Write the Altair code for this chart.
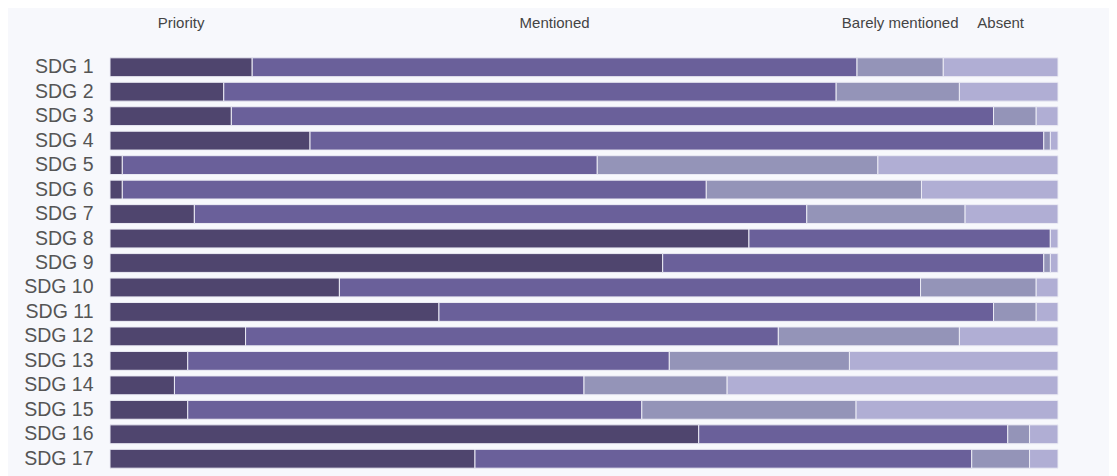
import altair as alt
import pandas as pd

sdgs = [f"SDG {i}" for i in range(1, 18)]
categories = ["Priority", "Mentioned", "Barely mentioned", "Absent"]
colors = ["#4f456e", "#6a609a", "#9494b8", "#b0aed4"]

priority  = [15.0, 12.0, 12.8, 21.1, 1.3, 1.3, 8.9, 67.4, 58.3, 24.2, 34.7, 14.3, 8.2, 6.8, 8.2, 62.1, 38.5]
mentioned = [63.8, 64.6, 80.4, 77.4, 50.1, 61.6, 64.6, 31.8, 40.2, 61.3, 58.5, 56.2, 50.8, 43.2, 47.9, 32.6, 52.4]
barely    = [9.1, 13.0, 4.5, 0.7, 29.6, 22.7, 16.7, 0.0, 0.7, 12.2, 4.5, 19.1, 19.0, 15.1, 22.6, 2.3, 6.1]
absent    = [12.1, 10.4, 2.3, 0.8, 19.0, 14.4, 9.8, 0.8, 0.8, 2.3, 2.3, 10.4, 22.0, 34.9, 21.3, 3.0, 3.0]

rows = []
for i, s in enumerate(sdgs):
    for k, (cat, vals) in enumerate(zip(categories, [priority, mentioned, barely, absent])):
        rows.append({"sdg": s, "category": cat, "value": vals[i], "order": k})
df = pd.DataFrame(rows)

xscale = alt.Scale(domain=[0, 100], nice=False, zero=True)

bars = alt.Chart(df).mark_bar(stroke="#ebebf4", strokeWidth=1).encode(
    y=alt.Y("sdg:N", sort=sdgs,
            scale=alt.Scale(paddingInner=0.23, paddingOuter=0.115),
            axis=alt.Axis(title=None, labelFontSize=19.5, labelColor="#555555",
                          labelFont="Liberation Sans", labelPadding=17,
                          ticks=False, domain=False, grid=False)),
    x=alt.X("value:Q", stack="zero", scale=xscale, axis=None),
    color=alt.Color("category:N", scale=alt.Scale(domain=categories, range=colors), legend=None),
    order=alt.Order("order:Q"),
)

headers = alt.Chart(df).transform_filter(
    alt.datum.sdg == "SDG 1"
).transform_stack(
    stack="value", as_=["x0", "x1"], groupby=["sdg"], sort=[alt.SortField("order")]
).transform_calculate(
    mid="(datum.x0 + datum.x1) / 2"
).mark_text(fontSize=15, color="#444444", font="Liberation Sans", baseline="alphabetic", align="center").encode(
    x=alt.X("mid:Q", scale=xscale, axis=None),
    y=alt.value(-27),
    text="category:N",
)

chart = alt.layer(bars, headers).properties(
    width=948, height=416,
    autosize=alt.AutoSizeParams(type="none"),
    padding={"left": 102, "top": 47, "right": 51, "bottom": 5},
).configure(background="#f7f8fc").configure_view(stroke=None)

chart.save("out.html", embed_options={"renderer": "svg", "actions": False})
